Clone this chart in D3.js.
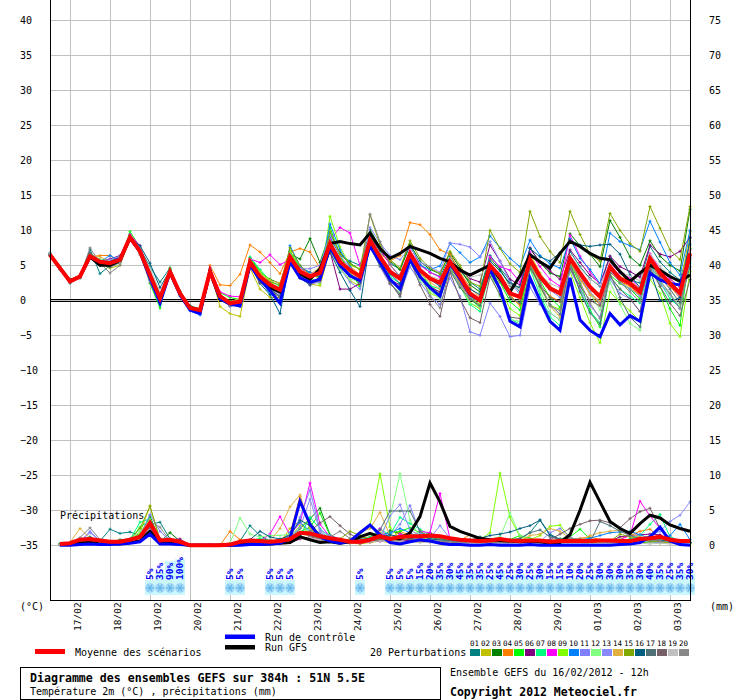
<!DOCTYPE html>
<html>
<head>
<meta charset="utf-8">
<script src="https://cdn.jsdelivr.net/npm/d3@7"></script>
<style>
  body { margin: 0; background: #fff; }
  svg { display: block; font-family: "DejaVu Sans Mono", monospace; }
</style>
</head>
<body>
<svg id="chart" width="740" height="700"></svg>
<script>
// pas de 6h depuis le 16/02 12h (0..64)
var dayLabels = ['17/02','18/02','19/02','20/02','21/02','22/02','23/02','24/02',
  '25/02','26/02','27/02','28/02','29/02','01/03','02/03','03/03'];
var leftTicks = [-35,-30,-25,-20,-15,-10,-5,0,5,10,15,20,25,30,35,40];
var rightTicks = [0,5,10,15,20,25,30,35,40,45,50,55,60,65,70,75];
var memberNames = ['01','02','03','04','05','06','07','08','09','10',
  '11','12','13','14','15','16','17','18','19','20'];
var memberColors = ['#008080','#c0c000','#008000','#ff8000','#00ff00','#800080','#00ff80','#ff00ff','#80ff00','#0080ff',
  '#8080ff','#80ff80','#8888ff','#e0b040','#80a800','#005f80','#507078','#786068','#c0c0c0','#888888'];

// temperature 2m (°C), 65 valeurs
var tMean = [6.5,4.6,2.7,3.4, 6.3,5.5,5.3,5.8, 9.0,7.0,3.6,0.3, 4.1,1.0,-1.1,-1.4, 4.1,0.6,-0.4,-0.2,
  5.5,3.4,2.2,1.5, 6.2,4.1,3.4,3.9, 8.1,5.5,4.3,3.4, 8.6,6.2,4.1,3.1, 6.7,4.3,3.1,2.5,
  5.5,3.4,1.0,0.0, 5.0,3.4,1.0,0.5, 5.8,3.4,1.7,1.0, 6.0,3.9,1.9,0.5, 4.8,3.1,2.4,1.2, 6.0,3.9,2.4,1.0, 6.7];
var tCtrl = [6.5,4.6,2.7,3.4, 6.2,5.5,5.4,5.9, 8.9,7.0,3.2,-0.4, 4.0,0.8,-1.4,-1.9, 4.2,0.2,-0.5,-0.8,
  5.0,3.0,1.4,-0.4, 5.5,3.2,2.6,3.0, 7.6,5.0,3.5,2.8, 7.8,5.4,3.0,1.6, 5.8,3.4,1.8,0.6,
  5.3,3.0,0.8,0.0, 4.4,1.6,-3.0,-3.8, 3.2,0.0,-3.0,-4.3, 3.2,-2.8,-4.3,-5.2, -1.9,-3.5,-2.2,-3.0, 3.9,2.9,2.4,2.2, 6.2];
var tGfs = [6.5,4.6,2.8,3.4, 6.2,5.0,5.0,5.7, 8.9,7.0,3.4,0.1, 4.0,0.9,-1.2,-1.7, 4.0,0.2,-0.3,-0.3,
  5.3,3.0,1.8,1.2, 5.8,3.8,3.0,4.5, 8.1,8.4,8.1,7.9, 9.6,7.4,6.0,6.7, 7.7,7.2,6.7,6.0,
  5.5,4.3,3.6,4.3, 5.0,3.1,1.2,3.5, 6.5,5.5,4.6,6.7, 8.4,7.7,6.7,6.0, 5.8,4.1,2.7,3.9, 5.0,4.3,3.4,2.7, 3.6];
var t01 = [6.6,4.5,2.5,3.3, 7.3,3.8,5.0,5.6, 8.7,7.4,4.8,2.6, 4.6,1.2,-1.0,-1.6, 4.4,0.2,-0.6,-0.9,
  5.0,2.6,1.6,0.5, 6.8,4.6,4.0,3.2, 9.0,6.4,5.6,5.0, 9.2,7.0,5.3,4.4, 7.8,5.1,4.0,3.4,
  6.3,4.2,2.6,1.6, 6.4,4.6,2.8,1.2, 5.2,3.0,1.5,0.8, 7.0,4.8,3.1,2.0, 6.3,4.0,2.8,2.5, 7.7,5.5,4.0,2.9, 8.0];
var t02 = [6.3,4.5,2.6,3.2, 6.0,5.2,4.6,5.0, 8.8,7.2,3.2,-0.2, 3.9,0.8,-1.3,-1.9, 4.2,-0.9,-1.9,-2.3,
  4.6,1.6,0.4,0.4, 5.1,3.2,2.3,2.1, 7.2,4.6,2.8,2.0, 7.9,5.6,3.0,1.6, 6.0,3.5,2.2,1.0,
  5.0,2.4,-0.4,-1.2, 4.6,2.8,0.4,-0.6, 6.6,3.9,2.0,0.8, 5.4,3.2,1.2,-0.5, 4.4,2.8,1.6,0.9, 6.3,4.5,3.1,1.8, 9.8];
var t03 = [6.7,4.7,2.8,3.5, 6.6,5.8,5.6,6.1, 9.3,7.5,4.0,0.8, 4.3,1.3,-0.8,-1.2, 4.0,0.5,-0.1,0.1,
  5.9,4.0,3.0,2.4, 6.6,5.9,8.8,5.4, 9.6,6.8,5.3,4.4, 10.1,7.6,5.6,4.4, 8.0,5.6,4.4,3.8,
  6.8,4.6,2.2,1.2, 6.0,4.4,2.1,1.8, 7.4,5.4,3.9,3.4, 9.5,7.8,6.6,4.8, 11.4,9.0,6.2,5.0, 8.5,6.3,5.0,4.2, 13.0];
var t04 = [6.4,4.7,2.9,3.5, 6.2,6.4,6.4,5.4, 9.1,6.6,3.4,0.0, 4.0,0.9,-1.2,-1.5, 5.0,2.2,2.1,3.7,
  7.9,6.9,5.4,3.8, 6.9,7.4,6.9,4.6, 8.4,6.0,4.9,3.6, 8.0,6.6,5.6,6.4, 11.1,10.8,9.4,7.2,
  6.6,4.0,1.8,0.4, 4.8,2.6,0.8,-0.8, 4.9,2.1,0.6,-0.2, 5.6,3.3,0.8,-0.6, 4.0,2.7,2.0,0.6, 5.6,3.2,2.0,0.3, 5.9];
var t05 = [6.6,4.8,2.9,3.4, 6.1,5.3,5.0,5.4, 9.8,7.6,2.4,-1.1, 4.6,1.1,-1.2,-1.6, 4.3,1.1,0.4,0.1,
  6.1,4.2,2.6,1.4, 7.0,4.8,3.0,4.6, 10.4,6.4,4.0,2.0, 9.5,5.8,3.0,1.6, 6.4,4.2,2.0,0.8,
  4.6,2.8,0.2,-1.0, 4.2,2.6,-0.2,-1.4, 5.1,2.8,0.4,-1.0, 5.3,2.4,-1.4,-3.8, 3.6,2.4,1.6,0.2, 5.4,2.0,-1.2,-3.6, 7.4];
var t06 = [6.5,4.5,2.7,3.3, 6.4,5.6,5.9,6.4, 8.6,6.8,3.7,0.4, 4.0,0.8,-1.3,-1.8, 3.8,0.1,-0.8,-0.6,
  5.2,2.6,1.8,1.4, 5.6,3.3,2.2,3.3, 7.0,1.6,1.6,2.4, 8.2,5.3,2.9,2.2, 5.8,3.3,1.9,1.2,
  5.7,4.4,3.1,2.6, 7.9,5.6,3.0,2.2, 7.5,5.4,4.2,3.0, 7.2,5.4,3.6,2.4, 6.3,4.8,4.1,3.3, 7.9,6.6,6.2,7.0, 9.0];
var t07 = [6.6,4.6,2.8,3.6, 6.5,5.7,5.5,6.0, 9.5,7.1,3.1,-0.6, 4.4,1.2,-1.0,-1.3, 4.5,0.7,-0.2,0.2,
  6.2,4.4,2.8,2.0, 6.6,4.0,3.6,4.4, 8.8,5.4,3.6,2.6, 8.8,5.9,3.4,2.4, 5.9,3.6,2.1,1.6,
  4.4,2.0,-0.6,-1.6, 4.6,1.4,-2.6,-3.4, 4.5,0.8,-2.4,-3.6, 5.0,1.4,-1.6,-3.2, 3.4,1.6,0.6,-0.4, 5.1,2.6,0.2,-1.0, 5.2];
var t08 = [6.5,4.6,2.6,3.5, 6.3,5.6,5.4,6.2, 9.4,7.8,3.5,0.0, 3.9,1.1,-0.9,-1.4, 4.6,1.2,0.6,0.5,
  5.9,5.4,6.5,5.1, 5.8,4.6,3.8,4.2, 8.6,10.4,9.6,5.0, 8.9,7.3,5.1,3.3, 7.1,5.0,4.0,3.3,
  5.0,2.6,0.3,-0.7, 6.2,4.8,4.3,2.6, 6.9,4.8,3.0,2.0, 9.3,6.3,4.1,2.2, 5.3,3.9,3.2,1.6, 6.7,4.4,3.0,1.9, 7.2];
var t09 = [6.4,4.5,2.6,3.4, 6.2,5.4,5.6,6.3, 8.8,6.9,3.9,0.9, 4.2,1.0,-1.1,-1.2, 4.0,0.4,-0.6,-0.2,
  5.6,4.1,2.9,1.0, 7.0,4.4,3.3,2.3, 12.0,7.6,5.0,4.5, 9.4,6.0,2.4,1.0, 6.1,3.6,1.0,0.4,
  5.3,2.7,0.4,-0.6, 3.6,1.6,-1.2,-2.2, 4.8,1.8,-0.7,-1.3, 4.1,0.4,-3.2,-6.1, 1.2,-0.3,-1.5,-3.0, 3.0,1.0,-3.3,-5.2, 4.1];
var t10 = [6.5,4.7,2.7,3.3, 6.5,5.5,6.4,5.6, 9.0,6.8,2.9,-0.3, 4.0,0.6,-1.5,-2.1, 4.2,0.6,-0.5,-0.5,
  5.0,3.0,0.9,0.0, 7.8,4.9,3.9,3.3, 10.9,7.2,4.8,3.0, 9.1,6.5,4.1,3.6, 6.4,5.0,4.4,4.9,
  8.1,6.8,5.4,6.2, 9.2,7.5,6.0,4.8, 8.6,6.4,5.2,4.6, 8.8,6.0,4.4,2.4, 9.6,8.4,7.8,7.2, 11.3,8.3,5.4,3.6, 10.0];
var t11 = [6.4,4.5,2.7,3.4, 6.4,5.6,5.8,6.3, 9.2,7.6,3.9,0.5, 4.1,0.9,-1.0,-1.3, 4.0,0.5,-0.9,-0.7,
  5.2,3.0,1.6,0.9, 5.4,3.6,2.3,2.6, 7.3,4.6,2.6,1.6, 7.9,4.8,2.3,1.0, 4.8,2.6,0.6,-0.6,
  3.2,0.6,-4.5,-5.0, -0.4,-2.3,-5.2,-5.0, 1.9,-0.6,-1.8,-2.8, 4.4,1.6,-0.8,-2.4, 3.0,1.0,0.2,-1.6, 5.0,2.4,0.8,-1.2, 6.0];
var t12 = [6.5,4.6,2.7,3.5, 6.3,5.9,5.4,5.2, 9.1,7.3,3.4,0.2, 4.3,1.0,-1.0,-1.5, 4.1,0.8,-0.3,0.0,
  5.8,3.8,2.4,1.8, 6.0,4.0,3.2,3.6, 7.4,4.4,3.0,2.8, 7.7,5.1,3.3,1.2, 5.4,2.8,1.4,0.2,
  4.3,2.0,-0.4,-1.0, 3.8,0.6,-2.8,-3.0, 5.3,1.4,-1.7,-2.9, 6.4,4.0,1.0,-1.4, 2.6,-0.6,-3.3,-4.3, 4.5,2.8,0.9,-0.8, 5.8];
var t13 = [6.6,4.6,2.8,3.5, 6.5,5.6,5.2,5.8, 9.0,7.4,3.4,0.0, 4.2,1.1,-1.2,-1.6, 3.9,0.4,-0.3,-0.3,
  5.4,3.0,2.0,1.6, 6.5,4.5,4.5,5.0, 9.4,6.4,4.6,3.2, 10.4,8.2,6.4,5.8, 7.6,5.4,4.8,4.0,
  8.2,8.0,7.6,6.2, 8.4,5.6,2.6,0.8, 6.2,3.4,1.5,0.4, 5.8,3.4,1.2,-0.4, 4.2,2.6,1.6,0.6, 6.3,3.8,2.3,0.4, 6.4];
var t14 = [6.5,4.6,2.6,3.3, 6.4,6.2,5.5,5.2, 9.1,7.0,3.8,0.4, 3.8,0.7,-1.3,-1.7, 4.3,0.9,-0.2,0.3,
  5.6,3.8,2.8,2.5, 6.4,4.4,3.7,4.7, 8.3,5.4,3.9,2.9, 8.0,5.2,3.0,1.8, 6.3,3.8,2.6,1.6,
  5.1,2.5,0.6,-0.3, 4.4,2.7,0.9,0.2, 5.5,2.1,-0.8,-2.4, 5.2,3.0,0.9,-0.1, 4.6,3.4,2.8,1.6, 6.0,4.0,2.7,1.2, 7.6];
var t15 = [6.4,4.5,2.8,3.4, 6.6,5.5,5.2,5.9, 9.0,7.1,3.8,0.6, 4.1,1.2,-0.9,-1.3, 4.1,0.6,-0.4,-0.1,
  5.5,3.6,2.6,2.2, 7.5,5.0,3.6,3.2, 9.8,6.6,5.2,4.4, 12.2,8.0,5.8,4.6, 8.5,6.0,4.6,3.8,
  7.0,5.0,2.6,2.0, 10.0,7.4,5.2,4.0, 12.7,9.1,7.0,5.4, 12.7,9.4,6.6,5.6, 12.4,10.0,8.1,7.0, 13.4,10.3,7.2,5.8, 13.4];
var t16 = [6.6,4.4,2.5,3.2, 6.2,5.0,5.2,5.7, 8.9,7.8,5.3,1.8, 4.3,1.0,-0.8,-1.4, 3.9,0.1,-0.7,-0.4,
  5.0,2.4,0.8,-1.9, 5.8,3.2,2.2,3.4, 6.9,4.0,1.4,-0.9, 8.4,5.5,3.8,2.4, 6.6,4.2,3.0,2.0,
  4.8,3.4,1.6,0.8, 5.6,4.2,2.4,1.8, 7.4,6.2,5.6,6.8, 8.6,7.9,7.7,7.9, 8.0,6.6,3.6,1.8, 4.4,0.0,-0.2,0.4, 8.9];
var t17 = [6.5,4.6,2.7,3.3, 6.8,5.4,4.7,5.4, 8.9,6.8,3.3,0.1, 4.0,0.8,-1.1,-1.4, 4.1,0.4,-0.5,-0.3,
  5.6,3.3,1.6,0.6, 6.0,3.6,2.6,3.0, 7.8,5.0,3.7,2.4, 7.6,4.9,2.6,0.5, 5.7,3.2,1.7,0.6,
  4.2,1.8,0.2,-0.8, 4.4,2.8,0.4,-0.4, 5.1,2.0,-0.6,-2.0, 5.4,1.2,-1.8,-3.4, 3.8,0.4,-2.4,-3.8, 5.8,3.4,1.6,-0.4, 4.8];
var t18 = [6.5,4.5,2.8,3.4, 6.1,5.1,4.9,5.5, 8.7,6.8,3.5,0.3, 4.1,1.1,-1.1,-1.5, 4.0,0.4,-0.6,-0.4,
  5.0,2.6,1.4,0.4, 5.6,3.2,2.4,2.8, 7.4,4.8,3.4,2.6, 8.0,5.6,2.4,0.8, 5.8,2.2,-0.6,-2.3,
  4.0,0.2,-2.5,-3.2, 3.4,0.8,-2.4,-2.6, 4.6,2.2,0.4,-0.2, 4.6,2.0,0.0,-0.8, 3.4,1.6,0.2,-1.6, 4.6,2.0,-0.4,-2.2, 3.0];
var t19 = [6.7,4.7,2.8,3.5, 6.3,5.7,5.6,5.4, 9.0,7.2,4.6,1.2, 4.0,1.0,-1.0,-1.3, 4.2,0.7,-0.4,-0.1,
  5.3,3.2,2.0,1.2, 6.0,3.8,3.6,4.4, 8.0,5.6,4.3,3.2, 8.6,6.4,4.4,3.3, 6.8,4.6,3.4,3.0,
  6.0,4.2,3.3,3.6, 4.9,3.0,2.2,1.6, 5.6,3.6,2.4,1.8, 6.4,4.6,3.0,2.2, 5.3,4.2,3.4,2.8, 6.6,4.8,3.5,2.6, 6.5];
var t20 = [6.8,4.6,2.8,3.4, 7.5,5.3,3.9,5.0, 9.0,6.5,2.5,-0.4, 4.0,0.9,-1.0,-1.6, 3.8,0.3,-0.8,-0.6,
  5.2,3.4,2.4,1.4, 6.2,3.8,3.3,3.7, 8.3,5.8,4.4,3.2, 12.3,8.4,5.1,3.4, 6.9,3.8,0.6,-1.1,
  4.5,2.2,0.4,-0.2, 5.2,3.6,1.2,0.4, 5.9,2.6,-0.8,-1.5, 6.0,2.6,-0.4,-2.6, 4.4,2.6,1.2,-0.2, 5.6,2.8,1.0,-1.2, 5.6];

// precipitations (mm / 6h), 64 valeurs, pas 1..64
var pMean = [0.2,0.3,0.8,0.9,0.7,0.5,0.5,0.8, 1.2,3.2,0.7,0.8,0.5,0,0,0, 0,0.1,0.5,0.7,0.6,0.5,0.6,0.9,
  1.8,1.7,1.3,1.0,0.8,0.5,0.5,0.8, 1.3,0.9,1.2,1.3,1.3,1.4,1.3,1.0, 0.8,0.7,0.6,0.7,0.9,0.7,0.6,0.7,
  0.7,0.5,0.6,0.6,0.6,0.6,0.7,0.7, 0.6,0.6,0.9,1.0,1.2,0.8,0.6,0.6];
var pCtrl = [0.0,0.0,0.1,0.2,0.1,0.1,0.2,0.3, 0.5,1.6,0.2,0.2,0.1,0,0,0, 0,0,0,0.1,0.1,0.2,0.3,1.0,
  6.3,3.0,1.2,0.6,0.3,0.6,1.8,2.9, 1.5,0.4,0.2,0.5,0.8,0.6,0.3,0.1, 0.1,0.0,0.0,0.1,0.0,0.0,0.0,0.1,
  0.0,0.0,0.0,0.0,0.0,0.0,0.0,0.0, 0.1,0.2,0.4,1.2,2.6,0.6,0.1,0.0];
var pGfs = [0.1,0.1,0.3,0.4,0.2,0.3,0.2,0.4, 0.6,2.0,0.4,0.3,0.2,0,0,0, 0,0,0.1,0.2,0.1,0.2,0.3,0.4,
  1.2,0.8,0.4,0.5,0.3,0.5,1.2,1.7, 1.2,1.0,0.9,1.8,4.1,8.9,6.2,2.7, 2.0,1.5,1.0,0.8,0.7,0.6,0.5,0.6,
  0.5,0.3,0.4,1.5,5.0,9.0,6.2,3.4, 2.4,1.7,3.1,4.3,3.9,2.9,2.4,2.0];
var p01 = [0.1,0.2,0.8,1.2,0.6,2.3,1.7,1.9, 1.4,3.0,3.3,0.9,0.5,0,0,0, 0,0.1,0.6,2.8,1.4,0.6,0.5,0.8,
  1.6,2.2,1.2,0.6,0.4,0.3,0.5,0.8, 1.0,0.8,1.4,0.9,1.2,1.8,0.9,0.6, 0.5,0.6,1.2,0.8,1.0,0.7,0.9,1.8,
  3.6,1.6,0.8,0.6,0.5,0.4,0.5,0.6, 0.4,0.5,0.8,0.6,0.9,1.2,0.6,0.4];
var p02 = [0.1,0.1,0.4,0.6,0.5,0.3,0.3,0.6, 1.8,5.6,0.6,0.8,0.3,0,0,0, 0,0,0.2,0.3,0.3,0.2,0.4,2.4,
  3.5,1.2,0.8,0.5,0.4,0.3,0.2,0.4, 0.6,0.4,0.5,0.6,0.4,0.5,0.4,0.3, 0.3,0.2,0.3,0.4,0.3,0.2,0.3,0.4,
  0.3,0.2,0.4,0.3,0.2,0.1,0.3,0.4, 0.3,0.2,0.4,0.5,0.6,0.3,0.2,0.3];
var p03 = [0.2,0.2,0.6,0.7,0.5,0.4,0.8,0.9, 1.5,4.2,0.5,1.8,0.6,0,0,0, 0,0,0.3,0.5,0.6,0.4,0.5,1.0,
  2.4,3.8,5.3,1.5,0.8,0.5,0.4,0.6, 0.8,2.1,1.7,1.2,1.0,0.8,0.7,0.6, 0.4,0.3,0.5,0.6,0.8,0.6,0.4,0.5,
  0.4,0.3,0.5,0.8,0.7,0.5,0.4,0.3, 0.5,0.6,0.4,0.5,0.8,0.6,0.4,0.3];
var p04 = [0.1,0.2,0.5,0.6,0.4,0.3,0.4,0.5, 1.0,2.8,0.4,0.5,0.3,0,0,0, 0,2.0,0.8,0.5,0.4,0.6,0.8,1.6,
  7.0,2.4,1.2,0.6,0.4,0.8,1.0,1.2, 1.8,0.9,2.0,1.4,1.0,0.8,0.6,0.5, 0.7,1.5,0.9,0.6,0.5,0.4,0.5,0.6,
  0.4,0.5,0.6,0.8,1.0,1.2,0.8,0.6, 0.9,1.4,2.0,2.3,1.0,0.6,0.5,0.4];
var p05 = [0.2,0.3,0.6,0.8,0.6,0.4,0.6,0.7, 2.6,3.6,0.4,0.9,0.5,0,0,0, 0,0,0.4,0.6,0.5,0.4,0.8,1.1,
  1.9,2.6,4.6,1.4,0.6,0.4,0.6,1.0, 1.5,1.8,2.0,2.5,1.8,1.2,0.8,0.6, 0.5,0.6,0.8,0.7,0.6,0.8,1.4,1.0,
  0.6,0.5,0.9,1.2,2.3,0.9,0.6,0.4, 0.5,0.7,1.0,0.8,0.6,0.7,0.5,0.4];
var p06 = [0.1,0.1,0.3,0.4,0.4,0.5,0.4,0.4, 0.8,2.4,0.6,0.8,0.9,0,0,0, 0,0,0.2,0.3,0.4,0.5,0.8,0.4,
  0.9,1.2,0.8,0.6,0.5,0.4,0.3,0.5, 0.6,0.5,0.6,0.7,0.6,0.5,0.4,0.4, 0.3,0.4,0.3,0.5,0.4,0.3,0.2,0.4,
  0.3,0.4,0.5,0.4,0.3,0.3,0.4,0.6, 1.2,1.4,1.5,1.6,1.5,0.8,0.4,0.3];
var p07 = [0.2,0.2,0.5,0.7,0.6,0.6,0.5,0.8, 3.3,3.8,0.8,0.6,0.4,0,0,0, 0,0,0.3,0.6,1.0,0.7,0.5,0.8,
  1.4,4.0,2.4,1.0,0.7,0.5,0.8,1.2, 2.3,1.5,4.0,3.1,2.3,1.4,0.9,0.7, 0.6,0.7,0.5,0.6,0.8,0.6,0.5,0.6,
  0.5,0.6,0.7,0.6,0.5,0.8,0.6,0.5, 0.6,0.9,1.4,3.0,4.4,1.2,0.6,0.4];
var p08 = [0.1,0.2,0.4,0.6,0.4,0.5,0.6,0.9, 1.2,2.8,0.6,0.5,0.3,0,0,0, 0,0,0.2,0.4,0.6,1.6,4.1,1.5,
  3.2,8.9,3.0,1.2,0.6,0.5,0.4,0.6, 2.4,0.9,1.6,1.2,2.0,1.8,7.4,0.9, 0.6,0.5,0.6,0.8,0.9,0.6,0.5,0.4,
  0.6,0.8,0.5,0.4,0.6,0.5,0.4,0.6, 0.8,1.4,6.3,4.2,2.4,1.0,0.6,0.4];
var p09 = [0.2,0.2,0.5,0.6,0.5,0.4,0.5,0.6, 1.6,3.4,0.5,0.6,0.4,0,0,0, 0,0,0.4,0.5,0.7,0.5,0.6,1.2,
  2.8,3.4,1.4,0.8,0.6,0.9,1.6,2.8, 10.2,2.6,0.9,1.2,2.0,1.0,0.8,0.7, 0.6,0.5,0.8,1.8,10.3,4.0,1.2,0.8,
  1.4,2.7,2.9,1.0,0.6,0.5,0.4,0.3, 0.4,0.5,0.6,0.4,0.3,0.4,0.3,0.2];
var p10 = [0.1,0.1,0.3,0.5,0.4,0.3,0.3,0.4, 1.0,3.0,0.4,0.5,0.3,0,0,0, 0,0,0.3,0.4,0.5,0.6,0.5,1.8,
  3.3,2.0,1.6,1.0,0.6,0.5,0.8,1.0, 1.4,1.8,2.4,1.8,1.0,0.8,0.6,0.5, 0.4,0.3,0.5,0.6,0.5,0.4,0.5,0.6,
  0.4,0.5,0.4,0.6,0.8,1.0,1.4,1.8, 1.9,2.0,1.5,1.0,0.6,1.4,3.0,0.8];
var p11 = [0.1,0.2,0.6,1.8,0.7,0.5,0.4,0.6, 1.4,4.4,2.0,0.6,0.4,0,0,0, 0,0,0.2,0.3,0.4,0.5,0.6,1.0,
  4.0,7.9,2.2,1.4,0.9,0.5,0.6,0.8, 1.6,1.4,3.0,5.7,1.8,1.2,0.6,0.4, 0.3,0.4,0.5,0.4,0.3,0.3,0.2,0.3,
  0.4,0.3,0.2,0.3,0.2,0.2,0.3,0.4, 0.3,0.4,0.6,0.5,0.4,0.6,0.5,0.4];
var p12 = [0.2,0.3,0.5,0.6,0.5,0.5,0.6,0.7, 2.0,3.4,0.6,0.5,0.3,0,0,0, 0,0.3,3.9,1.6,1.2,1.4,1.4,1.6,
  1.8,2.2,1.4,1.0,0.7,0.6,0.8,1.0, 1.4,4.0,10.2,3.6,1.2,0.8,0.6,0.5, 0.6,0.8,0.7,0.9,1.2,4.6,1.4,0.8,
  0.7,0.6,0.8,0.9,0.7,0.6,0.5,0.7, 0.9,0.6,0.5,0.7,0.8,0.6,0.5,0.4];
var p13 = [0.1,0.2,0.5,2.0,0.6,0.4,0.5,0.6, 1.2,3.2,1.0,0.5,0.3,0,0,0, 0,0,0.2,0.3,0.5,0.6,0.8,1.2,
  2.5,6.6,2.0,0.9,0.6,0.4,0.6,0.8, 1.0,4.2,5.8,2.2,1.4,1.0,2.8,1.0, 0.5,0.4,0.6,0.5,0.4,0.6,0.5,0.4,
  0.5,1.8,2.4,1.2,0.6,0.5,0.6,0.4, 0.5,0.6,0.8,1.4,2.0,3.4,4.3,6.2];
var p14 = [0.2,0.4,2.4,1.0,0.6,0.4,0.5,0.6, 1.0,3.6,0.5,0.4,0.3,0,0,0, 0,0,0.3,0.4,0.4,0.6,2.4,5.5,
  7.2,2.6,1.4,0.8,0.6,0.4,1.8,2.4, 4.7,1.4,1.0,1.6,0.8,1.2,0.8,0.6, 0.5,0.6,0.8,0.6,0.5,0.7,0.6,1.4,
  1.6,2.4,2.0,1.0,0.7,1.4,1.8,2.0, 2.2,1.6,1.2,1.0,0.7,0.6,0.5,0.4];
var p15 = [0.1,0.2,0.4,0.5,0.4,0.4,0.6,0.8, 2.4,5.6,0.8,0.6,0.4,0,0,0, 0,0,0.3,0.4,0.5,0.4,0.6,0.9,
  1.6,1.4,1.0,0.7,0.9,2.0,1.4,0.8, 0.9,0.7,0.8,0.9,0.6,0.5,0.4,0.3, 0.4,0.5,0.3,0.4,0.5,0.4,0.3,0.5,
  0.4,0.5,0.6,0.5,0.4,0.3,0.5,0.6, 1.6,1.2,0.8,0.6,0.5,0.4,0.3,0.4];
var p16 = [0.2,0.3,0.6,0.8,0.5,0.5,0.6,0.8, 1.4,2.6,0.9,0.6,0.4,0,0,0, 0,0,0.4,0.8,2.0,1.2,0.9,1.4,
  3.6,2.8,1.6,1.0,0.7,0.6,0.8,1.0, 1.2,1.5,1.2,1.0,1.4,0.9,0.8,0.7, 0.6,0.8,1.0,1.4,1.6,1.9,2.4,2.8,
  3.6,1.4,0.9,0.7,0.6,0.5,0.6,0.5, 0.6,0.8,1.0,0.9,0.7,0.6,0.5,0.4];
var p17 = [0.1,0.2,0.5,0.6,0.5,0.4,0.5,0.6, 1.0,2.7,0.6,0.5,0.3,0,0,0, 0,0,0.2,0.4,0.5,0.5,0.6,0.9,
  1.8,1.4,1.0,0.7,0.5,0.4,0.6,0.9, 2.2,4.9,4.9,4.9,2.0,1.2,0.8,0.6, 0.5,0.6,0.5,0.7,0.6,0.8,1.0,1.8,
  2.2,1.2,0.8,0.6,0.5,0.4,3.4,2.8, 2.0,1.4,1.0,0.8,0.6,0.5,0.4,0.3];
var p18 = [0.1,0.2,0.4,0.6,0.5,0.4,0.5,0.6, 1.1,2.6,0.5,0.4,0.3,0,0,0, 0,0,0.2,0.3,0.4,0.5,0.6,0.8,
  1.4,2.0,3.2,4.1,2.8,1.6,0.9,0.6, 0.8,0.7,0.9,0.8,0.6,0.7,0.5,0.4, 0.4,0.6,0.5,0.6,0.5,0.4,0.6,0.5,
  0.6,0.8,1.6,2.4,3.0,3.5,3.6,3.2, 2.5,3.8,4.8,5.3,2.4,1.0,0.6,0.4];
var p19 = [0.1,0.1,0.3,0.4,0.3,0.3,0.4,0.5, 0.8,2.2,0.4,0.4,0.2,0,0,0, 0,0,0.1,0.2,0.3,0.3,0.4,0.6,
  1.0,1.1,0.8,0.5,0.4,0.3,0.4,0.5, 0.6,0.5,0.6,0.5,0.4,0.4,0.3,0.3, 0.2,0.3,0.2,0.3,0.2,0.2,0.3,0.2,
  0.3,0.2,0.2,0.3,0.2,0.2,0.3,0.2, 0.2,0.3,0.3,0.2,0.3,0.2,0.2,0.3];
var p20 = [0.2,0.4,1.1,2.5,0.8,0.5,0.6,0.7, 1.2,3.4,2.6,0.6,0.4,0,0,0, 0,0,0.3,0.5,0.6,0.5,0.6,0.9,
  1.8,2.0,1.6,1.2,2.0,1.0,0.7,0.8, 1.2,0.9,1.0,1.2,0.8,0.7,0.6,0.5, 0.4,0.5,0.6,0.5,0.4,0.6,0.5,0.4,
  0.5,0.6,0.8,1.0,0.9,0.7,0.6,0.5, 0.6,0.5,0.7,0.8,0.6,0.5,0.4,0.6];

// probabilite de neige (%)
var snowSteps = [10,11,12,13,18,19,22,23,24,31,
  34,35,36,37,38,39,40,41,42,43,44,45,46,47,48,49,50,51,52,53,54,55,56,57,58,59,60,61,62,63,64];
var snowPct = [5,35,90,100,5,5,5,5,5,5,
  5,5,5,15,20,35,30,45,35,35,25,45,25,30,25,30,15,15,10,20,25,30,30,30,35,30,40,35,25,35,30];

var tMembers = [t01,t02,t03,t04,t05,t06,t07,t08,t09,t10,t11,t12,t13,t14,t15,t16,t17,t18,t19,t20];
var pMembers = [p01,p02,p03,p04,p05,p06,p07,p08,p09,p10,p11,p12,p13,p14,p15,p16,p17,p18,p19,p20];

var svg = d3.select('#chart');
var x = d3.scaleLinear().domain([0, 64]).range([50, 690]);
var yT = d3.scaleLinear().domain([-35, 40]).range([545.3, 20.3]);
var yP = d3.scaleLinear().domain([0, 75]).range([545.3, 20.3]);

var lineT = d3.line().x(function(d, i) { return x(i); }).y(function(d) { return yT(d); });
var lineP = d3.line().x(function(d, i) { return x(i + 1); }).y(function(d) { return yP(d); });

// grille
var grid = svg.append('g').attr('stroke', '#c0c0c0').attr('stroke-width', 1).attr('shape-rendering', 'crispEdges');
grid.selectAll('.h').data(leftTicks).enter().append('line')
  .attr('x1', 50).attr('x2', 690)
  .attr('y1', function(d) { return Math.round(yT(d)) + 0.5; })
  .attr('y2', function(d) { return Math.round(yT(d)) + 0.5; });
grid.selectAll('.v').data(dayLabels).enter().append('line')
  .attr('x1', function(d, k) { return x(2 + 4 * k) + 0.5; })
  .attr('x2', function(d, k) { return x(2 + 4 * k) + 0.5; })
  .attr('y1', 0).attr('y2', 600);

// ligne du zero
[-1, 1.2].forEach(function(o) {
  svg.append('line').attr('x1', 50).attr('x2', 690)
    .attr('y1', yT(0) + o).attr('y2', yT(0) + o)
    .attr('stroke', '#000').attr('stroke-width', 1).attr('shape-rendering', 'crispEdges');
});

// neige
var snow = svg.append('g');
snowSteps.forEach(function(s, j) {
  var xi = x(s), p = snowPct[j];
  var h = 14 + p * 0.22;
  snow.append('rect').attr('x', xi - 5).attr('y', 595 - h).attr('width', 10).attr('height', h)
    .attr('fill', '#ccf8fd').attr('shape-rendering', 'crispEdges');
});
snowSteps.forEach(function(s, j) {
  var xi = x(s);
  snow.append('circle').attr('cx', xi).attr('cy', 588).attr('r', 5).attr('fill', '#a6daf6');
  snow.append('path')
    .attr('d', 'M' + (xi - 4) + ',588h8M' + (xi - 2) + ',584.5l4,7M' + (xi + 2) + ',584.5l-4,7')
    .attr('stroke', '#5ab0ea').attr('stroke-width', 1).attr('fill', 'none');
  snow.append('text')
    .attr('transform', 'translate(' + (xi + 3) + ',580) rotate(-90)')
    .attr('fill', '#0000ff').attr('font-size', '9.5px').attr('font-weight', 'bold')
    .text(snowPct[j] + '%');
});

// perturbations
var pert = svg.append('g');
tMembers.forEach(function(serie, m) {
  var c = memberColors[m];
  pert.append('path').attr('d', lineT(serie)).attr('fill', 'none').attr('stroke', c).attr('stroke-width', 1);
  pert.append('path').attr('d', lineP(pMembers[m])).attr('fill', 'none').attr('stroke', c).attr('stroke-width', 1);
  var marks = serie.map(function(v, i) { return 'M' + (x(i) - 1.5) + ',' + yT(v) + 'h3m-1.5,-1.5v3'; })
    .concat(pMembers[m].map(function(v, i) { return 'M' + (x(i + 1) - 1.5) + ',' + yP(v) + 'h3m-1.5,-1.5v3'; }));
  pert.append('path').attr('d', marks.join('')).attr('stroke', c).attr('stroke-width', 1).attr('fill', 'none');
});

// runs
svg.append('path').attr('d', lineT(tGfs)).attr('fill', 'none').attr('stroke', '#000').attr('stroke-width', 3);
svg.append('path').attr('d', lineP(pGfs)).attr('fill', 'none').attr('stroke', '#000').attr('stroke-width', 3);
svg.append('path').attr('d', lineT(tCtrl)).attr('fill', 'none').attr('stroke', '#0000ff').attr('stroke-width', 3);
svg.append('path').attr('d', lineP(pCtrl)).attr('fill', 'none').attr('stroke', '#0000ff').attr('stroke-width', 3);
svg.append('path').attr('d', lineT(tMean)).attr('fill', 'none').attr('stroke', '#ff0000').attr('stroke-width', 4);
svg.append('path').attr('d', lineP(pMean)).attr('fill', 'none').attr('stroke', '#ff0000').attr('stroke-width', 4);

// axes
svg.append('path').attr('d', 'M50.5,0V600.5H690.5V0').attr('fill', 'none').attr('stroke', '#000')
  .attr('stroke-width', 1.5).attr('shape-rendering', 'crispEdges');

var axL = svg.append('g').attr('transform', 'translate(50,0)')
  .call(d3.axisLeft(yT).tickValues(leftTicks).tickSize(0));
axL.select('.domain').remove();
axL.selectAll('text').attr('x', -30).attr('text-anchor', 'start')
  .attr('font-family', '"DejaVu Sans Mono", monospace').attr('font-size', '10px').attr('fill', '#000');

var axR = svg.append('g').attr('transform', 'translate(690,0)')
  .call(d3.axisRight(yP).tickValues(rightTicks).tickSize(0));
axR.select('.domain').remove();
axR.selectAll('text').attr('x', 19).attr('text-anchor', 'start')
  .attr('font-family', '"DejaVu Sans Mono", monospace').attr('font-size', '10px').attr('fill', '#000');

// dates
svg.selectAll('.date').data(dayLabels).enter().append('text')
  .attr('transform', function(d, k) { return 'translate(' + (x(2 + 4 * k) + 11) + ',631) rotate(-90)'; })
  .attr('font-size', '9.5px').text(function(d) { return d; });

function label(tx, ty, s, size, bold) {
  svg.append('text').attr('x', tx).attr('y', ty).attr('font-size', size + 'px')
    .attr('font-weight', bold ? 'bold' : 'normal').text(s);
}
label(20, 610, '(°C)', 10);
label(710, 610, '(mm)', 10);
label(60, 519, 'Précipitations', 10);

// legende
svg.append('rect').attr('x', 35).attr('y', 649).attr('width', 30).attr('height', 5).attr('fill', '#ff0000');
label(75, 655.5, 'Moyenne des scénarios', 10);
svg.append('rect').attr('x', 225).attr('y', 634.5).attr('width', 30).attr('height', 4.5).attr('fill', '#0000ff');
label(265, 640.5, 'Run de contrôle', 10);
svg.append('rect').attr('x', 225).attr('y', 645).attr('width', 30).attr('height', 4.5).attr('fill', '#000');
label(265, 651, 'Run GFS', 10);
label(370, 655.5, '20 Perturbations', 10);

var leg = svg.append('g');
memberColors.forEach(function(c, m) {
  leg.append('rect').attr('x', 470 + 11 * m).attr('y', 649).attr('width', 10).attr('height', 7).attr('fill', c);
  leg.append('text').attr('x', 470 + 11 * m).attr('y', 646).attr('font-size', '7.5px').text(memberNames[m]);
});

// cadre titre
svg.append('rect').attr('x', 20.5).attr('y', 667.5).attr('width', 420).attr('height', 31.5)
  .attr('fill', 'none').attr('stroke', '#000').attr('stroke-width', 1).attr('shape-rendering', 'crispEdges');
label(30, 681.5, 'Diagramme des ensembles GEFS sur 384h : 51N 5.5E', 11.6, true);
label(30, 695, 'Température 2m (°C) , précipitations (mm)', 10);
label(450, 676, 'Ensemble GEFS du 16/02/2012 - 12h', 10);
label(450, 696, 'Copyright 2012 Meteociel.fr', 11.5, true);
</script>
</body>
</html>
